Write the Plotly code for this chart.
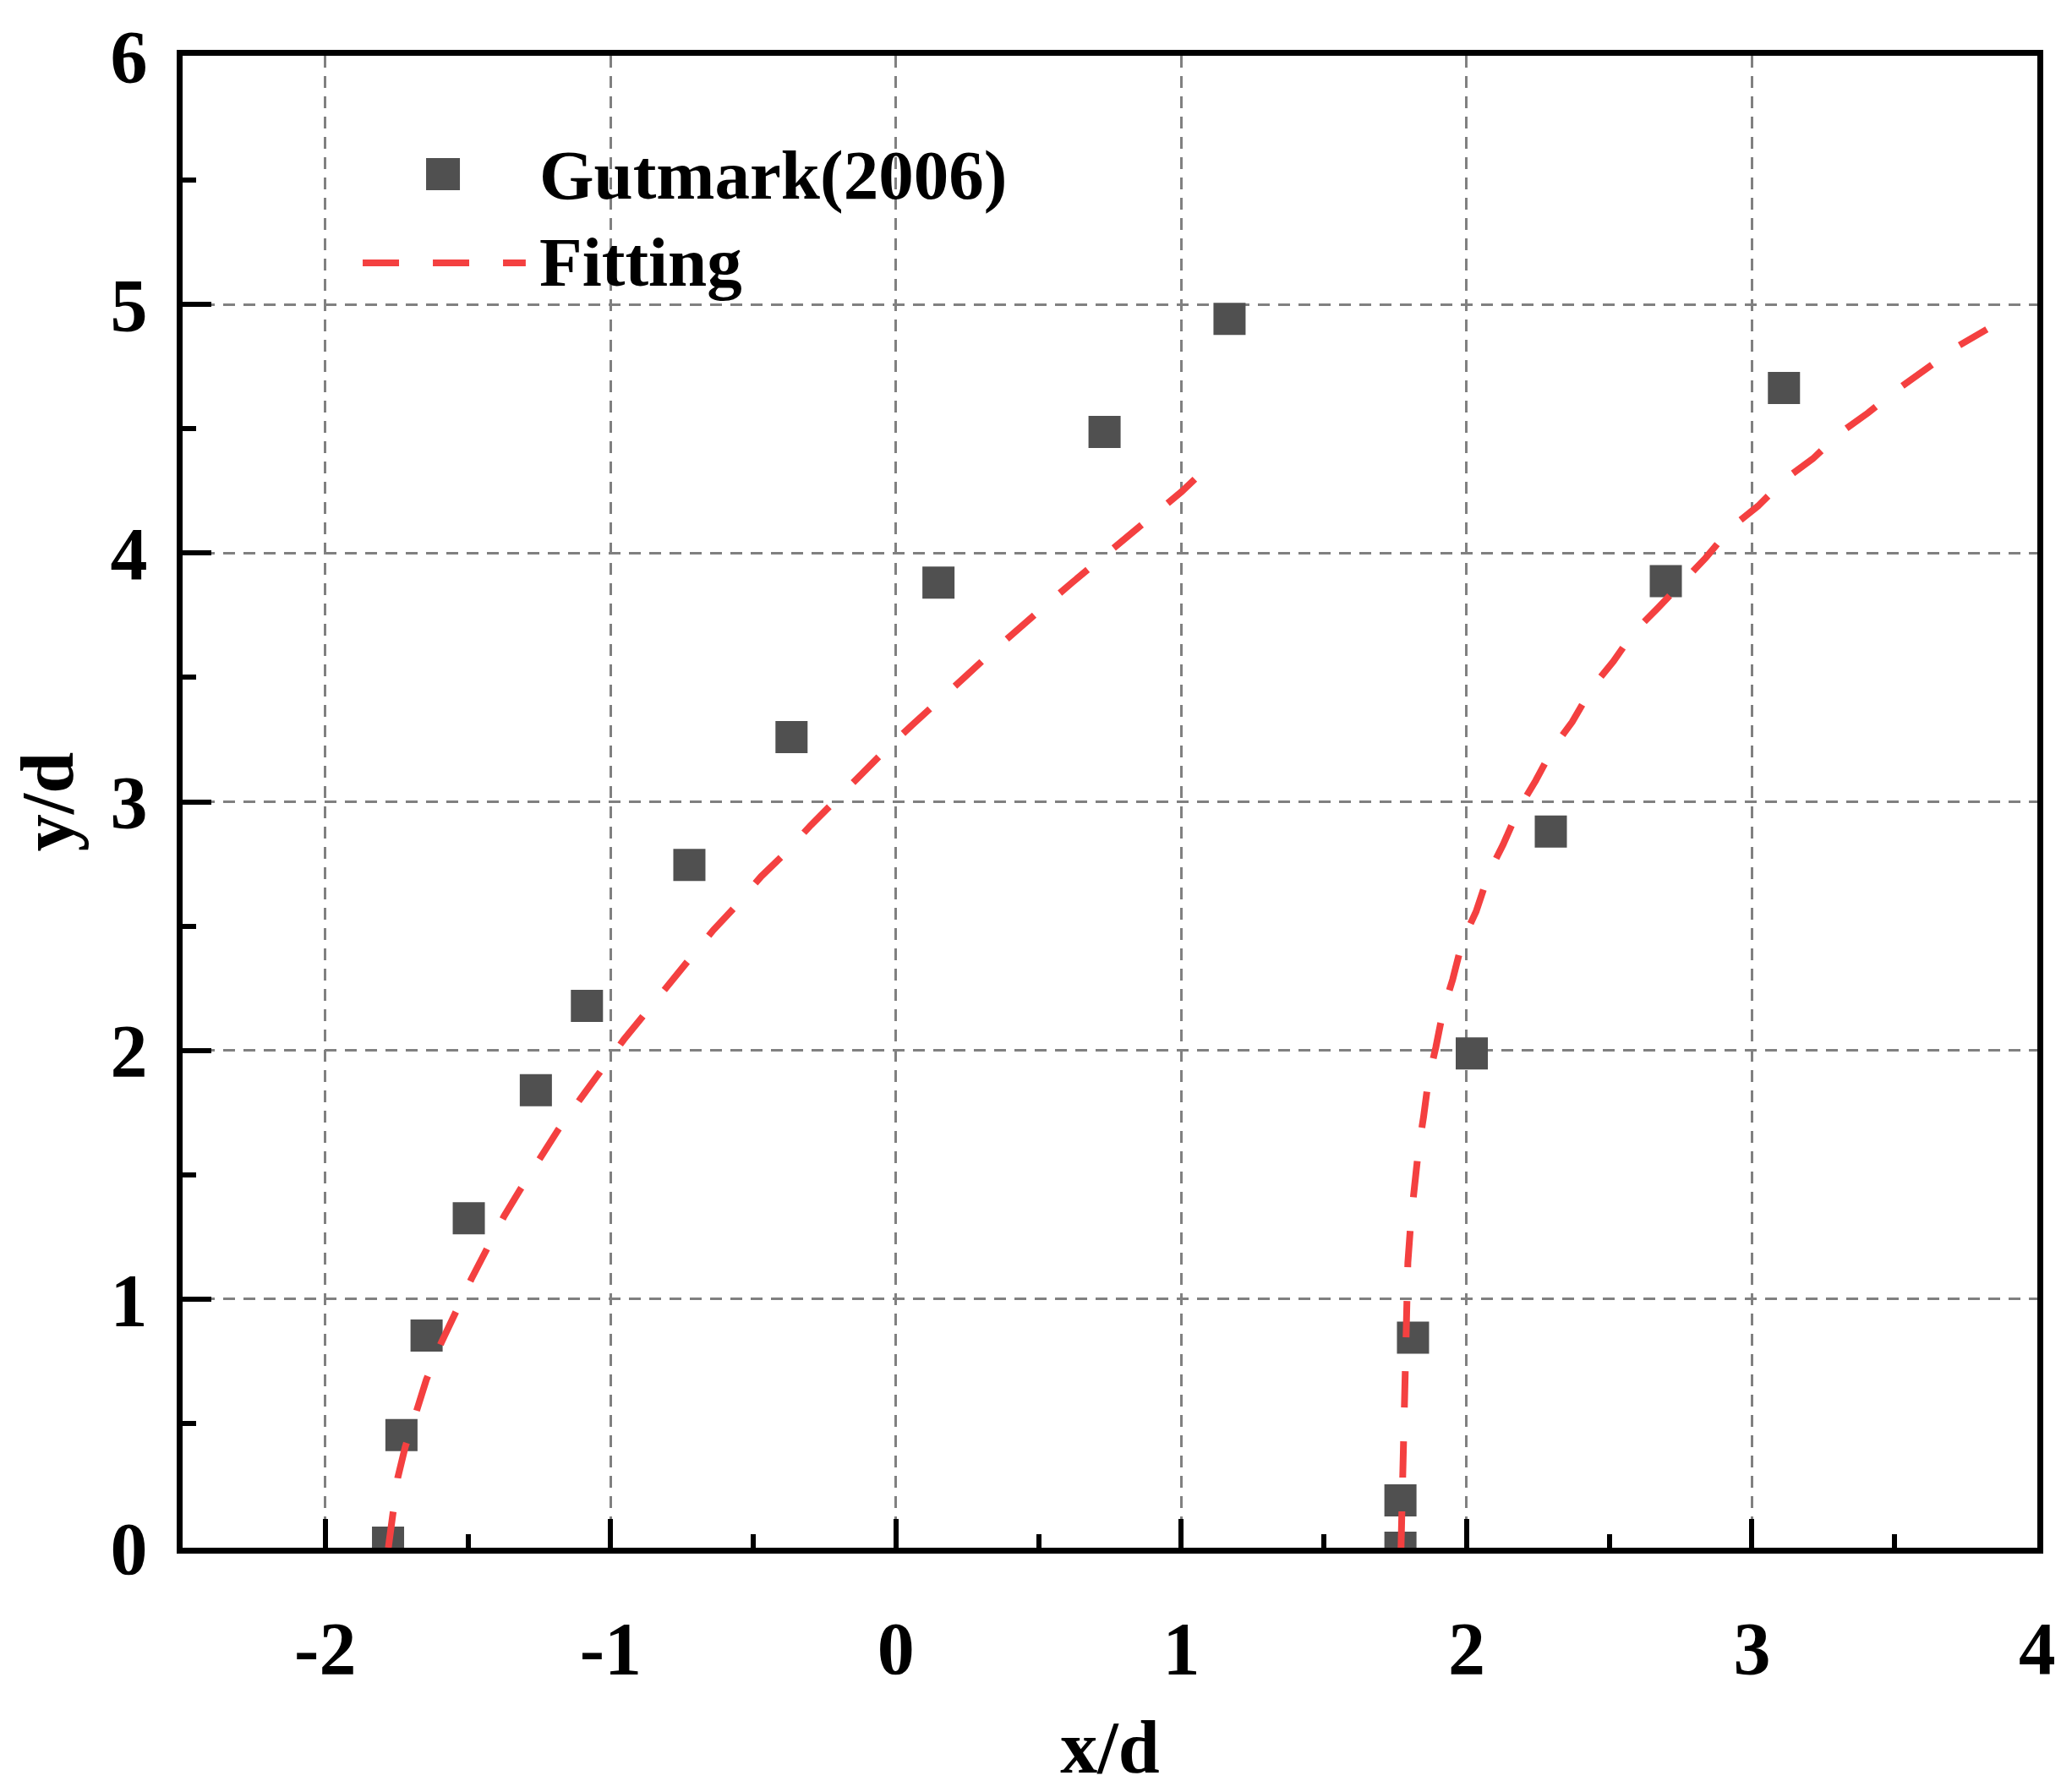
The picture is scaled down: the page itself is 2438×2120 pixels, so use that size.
import plotly.graph_objects as go

# --- Data ----------------------------------------------------------------
# Gutmark(2006) measurements (both branches)
gut_x = [-1.78, -1.733, -1.645, -1.497, -1.262, -1.083, -0.724, -0.366, 0.149, 0.731, 1.169,
         1.768, 1.768, 1.812, 2.018, 2.295, 2.698, 3.112]
gut_y = [0.02, 0.453, 0.853, 1.325, 1.840, 2.179, 2.746, 3.260, 3.881, 4.487, 4.942,
         0.0, 0.19, 0.845, 1.988, 2.880, 3.887, 4.664]

# fitted curve, left branch
fit_left_x = [-1.779, -1.767, -1.746, -1.720, -1.682, -1.646, -1.594, -1.548, -1.488, -1.437,
              -1.373, -1.317, -1.241, -1.183, -1.103, -1.037, -0.954, -0.885, -0.799, -0.728,
              -0.640, -0.565, -0.473, -0.393, -0.298, -0.223, -0.123, -0.042, 0.057, 0.140,
              0.242, 0.323, 0.429, 0.515, 0.619, 0.705, 0.809, 0.903, 1.001, 1.110]
fit_left_y = [0.0, 0.121, 0.281, 0.404, 0.554, 0.675, 0.823, 0.939, 1.081, 1.194,
              1.334, 1.440, 1.574, 1.682, 1.810, 1.918, 2.043, 2.140, 2.265, 2.361,
              2.484, 2.576, 2.699, 2.788, 2.906, 2.995, 3.108, 3.202, 3.309, 3.399,
              3.502, 3.588, 3.697, 3.781, 3.883, 3.965, 4.070, 4.152, 4.247, 4.366]

# fitted curve, right branch
fit_right_x = [1.770, 1.776, 1.781, 1.784, 1.794, 1.805, 1.816, 1.832, 1.849, 1.867,
               1.892, 1.918, 1.951, 1.985, 2.033, 2.079, 2.128, 2.183, 2.242, 2.304,
               2.370, 2.440, 2.514, 2.586, 2.670, 2.753, 2.838, 2.926, 3.021, 3.119,
               3.214, 3.309, 3.407, 3.510, 3.608, 3.720, 3.823]
fit_right_y = [0.0, 0.327, 0.675, 0.901, 1.147, 1.321, 1.455, 1.609, 1.732, 1.889,
               2.012, 2.162, 2.285, 2.439, 2.558, 2.716, 2.828, 2.972, 3.085, 3.218,
               3.321, 3.460, 3.564, 3.682, 3.779, 3.877, 3.981, 4.102, 4.189, 4.300,
               4.380, 4.484, 4.564, 4.658, 4.737, 4.831, 4.900]

x_ticks = [-2, -1, 0, 1, 2, 3, 4]
y_ticks = [0, 1, 2, 3, 4, 5, 6]

# --- Style ----------------------------------------------------------------
FONT = "Liberation Serif"
marker_color = "#505050"
fit_color = "#F44040"
fit_dash = "43px,40px"

fig = go.Figure()

fig.add_trace(
    go.Scatter(
        x=gut_x, y=gut_y, mode="markers", name="Gutmark(2006)",
        marker=dict(symbol="square", size=38, color=marker_color, line=dict(width=0)),
    )
)
for fx, fy in [(fit_left_x, fit_left_y), (fit_right_x, fit_right_y)]:
    fig.add_trace(
        go.Scatter(
            x=fx, y=fy, mode="lines", name="Fitting",
            line=dict(color=fit_color, width=8, dash=fit_dash),
        )
    )

axis_common = dict(
    automargin=False,
    ticks="inside",
    ticklen=34,
    tickwidth=6,
    tickcolor="black",
    showline=True,
    linewidth=7,
    linecolor="black",
    mirror=True,
    showgrid=True,
    gridcolor="#808080",
    gridwidth=2.5,
    griddash="14px,10px",
    zeroline=False,
    tickfont=dict(family=FONT, size=88, color="black", weight="bold"),
    minor=dict(tickmode="linear", tick0=0, dtick=0.5, ticks="inside", ticklen=16,
               tickwidth=6, tickcolor="black", showgrid=False),
)

# margins allow for the body margin of the html page
fig.update_layout(
    width=2438,
    height=2120,
    margin=dict(l=208, r=36, t=58, b=297),
    plot_bgcolor="white",
    paper_bgcolor="white",
    showlegend=False,
    xaxis=dict(
        range=[-2.5, 4],
        tickmode="array",
        tickvals=x_ticks,
        ticktext=[str(v) for v in x_ticks],
        ticklabelstandoff=36,
        title=dict(text="x/d", standoff=40,
                   font=dict(family=FONT, size=88, color="black", weight="bold")),
        **axis_common,
    ),
    yaxis=dict(
        range=[0, 6],
        tickmode="array",
        tickvals=y_ticks,
        ticktext=[str(v) for v in y_ticks],
        ticklabelstandoff=17,
        title=dict(text="y/d", standoff=24,
                   font=dict(family=FONT, size=88, color="black", weight="bold")),
        **axis_common,
    ),
)

# legend drawn by hand so the dashed sample is as long as in the original
fig.add_shape(
    type="rect", xref="paper", yref="paper",
    xsizemode="pixel", ysizemode="pixel",
    xanchor=0.1404, yanchor=0.9207, x0=-20, x1=20, y0=-19, y1=19,
    fillcolor=marker_color, line=dict(width=0),
)
fig.add_shape(
    type="line", xref="paper", yref="paper",
    x0=0.0971, x1=0.1850, y0=0.8612, y1=0.8612,
    line=dict(color=fit_color, width=8, dash=fit_dash),
)
for label, ypos in [("Gutmark(2006)", 0.9201), ("Fitting", 0.8618)]:
    fig.add_annotation(
        text=label, xref="paper", yref="paper", x=0.1915, y=ypos,
        xanchor="left", yanchor="middle", showarrow=False,
        font=dict(family=FONT, size=83, color="black", weight="bold"),
    )

fig.write_html("out.html")
